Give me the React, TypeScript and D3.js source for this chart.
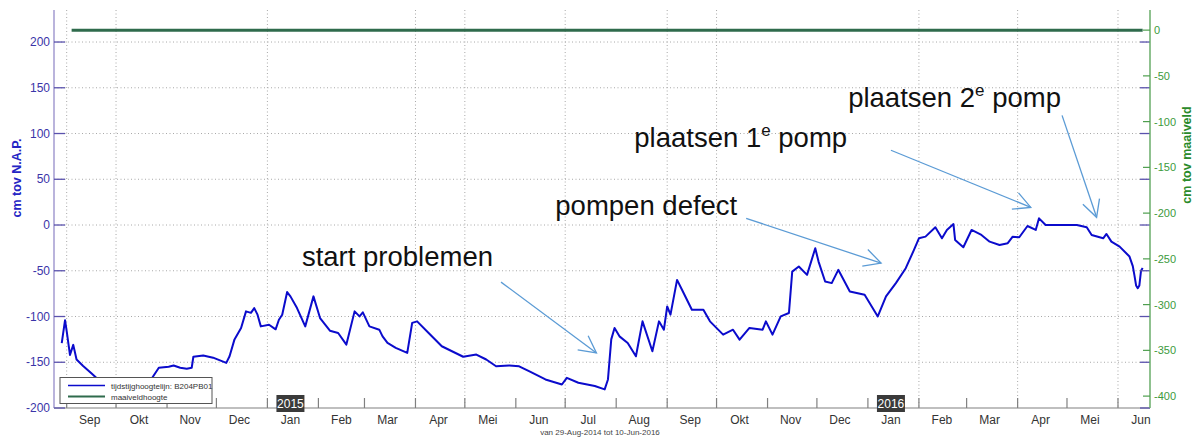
import { line, scaleLinear, scaleTime, timeMonth, timeParse } from "d3";

const parseDate = timeParse("%Y-%m-%d");

// gemeten stijghoogte (cm tov N.A.P.)
const obsDates = [
  "2014-08-29", "2014-08-31", "2014-09-01", "2014-09-03", "2014-09-05", "2014-09-07", "2014-09-11",
  "2014-09-16", "2014-09-19", "2014-09-24", "2014-09-30", "2014-10-06", "2014-10-12", "2014-10-18",
  "2014-10-21", "2014-10-23", "2014-10-27", "2014-11-02", "2014-11-05", "2014-11-09", "2014-11-13",
  "2014-11-16", "2014-11-17", "2014-11-23", "2014-11-29", "2014-12-07", "2014-12-09", "2014-12-12",
  "2014-12-16", "2014-12-19", "2014-12-22", "2014-12-24", "2014-12-26", "2014-12-28", "2015-01-02",
  "2015-01-06", "2015-01-08", "2015-01-10", "2015-01-13", "2015-01-15", "2015-01-19", "2015-01-24",
  "2015-01-29", "2015-02-02", "2015-02-08", "2015-02-13", "2015-02-18", "2015-02-23", "2015-02-26",
  "2015-02-28", "2015-03-04", "2015-03-10", "2015-03-12", "2015-03-15", "2015-03-20", "2015-03-27",
  "2015-03-30", "2015-04-02", "2015-04-09", "2015-04-17", "2015-04-30", "2015-05-08", "2015-05-14",
  "2015-05-20", "2015-05-28", "2015-06-03", "2015-06-09", "2015-06-19", "2015-06-29", "2015-07-02",
  "2015-07-09", "2015-07-19", "2015-07-25", "2015-07-27", "2015-07-29", "2015-07-31", "2015-08-03",
  "2015-08-08", "2015-08-13", "2015-08-17", "2015-08-23", "2015-08-27", "2015-08-30", "2015-09-01",
  "2015-09-03", "2015-09-07", "2015-09-10", "2015-09-16", "2015-09-23", "2015-09-27", "2015-10-05",
  "2015-10-11", "2015-10-15", "2015-10-21", "2015-10-29", "2015-10-31", "2015-11-04", "2015-11-09",
  "2015-11-14", "2015-11-16", "2015-11-20", "2015-11-25", "2015-11-30", "2015-12-02", "2015-12-06",
  "2015-12-10", "2015-12-14", "2015-12-21", "2015-12-30", "2016-01-07", "2016-01-12", "2016-01-18",
  "2016-01-24", "2016-01-29", "2016-02-01", "2016-02-05", "2016-02-11", "2016-02-15", "2016-02-18",
  "2016-02-22", "2016-02-23", "2016-02-28", "2016-03-04", "2016-03-10", "2016-03-15", "2016-03-21",
  "2016-03-26", "2016-03-29", "2016-04-02", "2016-04-07", "2016-04-12", "2016-04-14", "2016-04-18",
  "2016-04-26", "2016-05-07", "2016-05-13", "2016-05-16", "2016-05-23", "2016-05-25", "2016-05-28",
  "2016-06-02", "2016-06-08", "2016-06-10", "2016-06-11", "2016-06-12", "2016-06-13", "2016-06-14",
  "2016-06-15", "2016-06-16",
];
const obsValues = [
  -129, -104, -116, -142, -131, -147, -154,
  -162, -167, -172, -178, -182, -183, -178,
  -172, -167, -156, -155, -153.6, -156, -157,
  -156, -144, -142.7, -145, -150.7, -143.5, -125,
  -112.5, -94.4, -96, -90.8, -98, -110.8, -109,
  -114, -103.5, -98, -73.3, -78, -90.8, -110.8,
  -78, -101.7, -115.5, -118, -130.7, -94.4, -99.9,
  -95.5, -110.8, -114.4, -121.7, -128.9, -134.3, -139.8,
  -107, -105.3, -118, -132.5, -144, -141.6, -147,
  -154.4, -153.6, -154.4, -159.8, -168.8, -174.3, -167,
  -172.4, -176, -179.7, -168.8, -125, -112.5, -121.7,
  -129, -143.5, -105.3, -138, -105.3, -114.4, -89,
  -98, -60, -70.8, -92.6, -92.6, -105.3, -119.8,
  -114.4, -125.3, -112.5, -114.4, -105.3, -119.8, -99.9,
  -96.2, -50.9, -45.4, -54.5, -25.4, -40, -61.8,
  -63.5, -49, -72.6, -76.3, -99.9, -78, -63.5,
  -47.2, -27.2, -14.5, -12.7, -2.5, -14.5, -5.4,
  1, -16.3, -24.3, -5.4, -10.9, -18.2, -21.8,
  -19.9, -12.7, -13.4, -1.1, -5.4, 7.3, 0,
  0, 0, -2.5, -10.9, -14.5, -9.8, -18.2,
  -23.6, -34.5, -45, -55, -66, -69, -66,
  -50, -47,
];

// maaiveldhoogte (cm tov N.A.P.)
const groundLevel = 213;
const groundDates = ["2014-09-04", "2016-06-16"];

const leftTicks = [200, 150, 100, 50, 0, -50, -100, -150, -200];
const rightTicks = [0, -50, -100, -150, -200, -250, -300, -350, -400];
const gridDates = [
  "2014-09-01", "2014-10-01", "2015-01-01", "2015-04-01", "2015-05-01", "2015-07-01",
  "2015-09-01", "2015-10-01", "2016-02-01", "2016-04-01", "2016-06-01",
];
const monthNames = ["Jan", "Feb", "Mar", "Apr", "Mei", "Jun", "Jul", "Aug", "Sep", "Okt", "Nov", "Dec"];
const yearLabels = ["2015", "2016"];

const legendLabels = ["tijdstijghoogtelijn: B204PB01", "maaiveldhoogte"];
const caption = "van 29-Aug-2014 tot 10-Jun-2016";

// annotaties: tekst + pijl (staart -> punt), in datum/waarde
const notes = [
  { text: "start problemen", sup: "", rest: "", at: ["2015-01-22", -44.7], tail: ["2015-05-23", -62.4], tip: ["2015-07-20", -139.8] },
  { text: "pompen defect", sup: "", rest: "", at: ["2015-06-25", 10.9], tail: ["2015-10-19", 7.3], tip: ["2016-01-09", -41.7] },
  { text: "plaatsen 1", sup: "e", rest: " pomp", at: ["2015-08-12", 85], tail: ["2016-01-15", 81.7], tip: ["2016-04-09", 19.3] },
  { text: "plaatsen 2", sup: "e", rest: " pomp", at: ["2015-12-20", 128.5], tail: ["2016-04-28", 119.8], tip: ["2016-05-19", 8.4] },
];

const W = 1197;
const H = 440;
const left = 54;
const right = 1150;
const top = 10;
const bottom = 408;
const font = "Arial, 'Liberation Sans', sans-serif";

export default function App() {
  const x = scaleTime()
    .domain([new Date(2014, 7, 24, 7), new Date(2016, 5, 20, 11)])
    .range([left, right]);
  const y = scaleLinear().domain([-200, 235]).range([bottom, top]);
  const y2 = scaleLinear().domain([-200 - groundLevel, 235 - groundLevel]).range([bottom, top]);

  const points: [number, number][] = obsDates.map((d, i) => [x(parseDate(d)!), y(obsValues[i])]);
  const path = line()(points) || "";

  const monthStarts = timeMonth.range(new Date(2014, 8, 1), new Date(2016, 5, 2));
  const yearBoxes = monthStarts.filter((m) => m.getMonth() === 0);

  const arrowHead = (tx: number, ty: number, sx: number, sy: number) => {
    const a = Math.atan2(sy - ty, sx - tx);
    const len = 19;
    const sp = 0.48;
    return `M${tx + len * Math.cos(a + sp)},${ty + len * Math.sin(a + sp)}L${tx},${ty}L${tx + len * Math.cos(a - sp)},${ty + len * Math.sin(a - sp)}`;
  };

  return (
    <svg width={W} height={H} style={{ position: "absolute", left: 0, top: 0, background: "#fff" }} fontFamily={font}>
      {/* grid */}
      {leftTicks.slice(0, -1).map((t) => (
        <line key={"h" + t} x1={left} x2={right} y1={y(t)} y2={y(t)} stroke="#a8a8a8" strokeWidth={1} strokeDasharray="1 2.5" />
      ))}
      {gridDates.map((d) => (
        <line key={"v" + d} x1={x(parseDate(d)!)} x2={x(parseDate(d)!)} y1={top} y2={bottom} stroke="#a8a8a8" strokeWidth={1} strokeDasharray="1 2.5" />
      ))}

      {/* maaiveld */}
      <line
        x1={x(parseDate(groundDates[0])!)}
        x2={x(parseDate(groundDates[1])!)}
        y1={y(groundLevel)}
        y2={y(groundLevel)}
        stroke="#2f6b4c"
        strokeWidth={3}
      />

      {/* stijghoogte */}
      <path d={path} fill="none" stroke="#0b0bcc" strokeWidth={2} strokeLinejoin="round" />

      {/* x axis */}
      <line x1={left} x2={right} y1={bottom} y2={bottom} stroke="#808080" strokeWidth={1.2} />
      {monthStarts.map((m) => (
        <line key={"mt" + m.getTime()} x1={x(m)} x2={x(m)} y1={bottom} y2={bottom - 10} stroke="#808080" strokeWidth={1.2} />
      ))}
      {monthStarts.map((m) => {
        const mid = new Date(m.getFullYear(), m.getMonth(), 15);
        return (
          <text key={"ml" + m.getTime()} x={x(mid)} y={424} fontSize={12} fill="#333" textAnchor="middle">
            {monthNames[m.getMonth()]}
          </text>
        );
      })}
      {yearBoxes.map((m, i) => {
        const cx = x(new Date(m.getFullYear(), 0, 15));
        return (
          <g key={"yb" + i}>
            <rect x={cx - 14} y={395} width={28} height={17} fill="#3a3a3a" />
            <text x={cx} y={408} fontSize={12} fill="#fff" textAnchor="middle">
              {yearLabels[i]}
            </text>
          </g>
        );
      })}
      <text x={600} y={435} fontSize={8} fill="#444" textAnchor="middle">
        {caption}
      </text>

      {/* left axis */}
      <line x1={left} x2={left} y1={top} y2={bottom} stroke="#a39bd0" strokeWidth={1.5} />
      {leftTicks.map((t) => (
        <g key={"lt" + t}>
          <line x1={left} x2={left + 11} y1={y(t)} y2={y(t)} stroke="#5a52ad" strokeWidth={1.3} />
          <line x1={right - 10} x2={right} y1={y(t)} y2={y(t)} stroke="#5a52ad" strokeWidth={1.3} />
          <text x={50} y={y(t) + 4} fontSize={12} fill="#3a34a8" textAnchor="end">
            {t}
          </text>
        </g>
      ))}
      <text
        transform={`translate(21,${178}) rotate(-90)`}
        fontSize={12.5}
        fontWeight="bold"
        fill="#2424c4"
        textAnchor="middle"
      >
        cm tov N.A.P.
      </text>

      {/* right axis */}
      <line x1={right} x2={right} y1={top} y2={bottom} stroke="#6aac6a" strokeWidth={1.5} />
      {rightTicks.map((t) => (
        <g key={"rt" + t}>
          <line x1={right - 7} x2={right} y1={y2(t)} y2={y2(t)} stroke="#4e9e4e" strokeWidth={1.2} />
          <text x={1154} y={y2(t) + 4} fontSize={11} fill="#3c9a3c">
            {t}
          </text>
        </g>
      ))}
      <text
        transform={`translate(1191,${155}) rotate(-90)`}
        fontSize={12.5}
        fontWeight="bold"
        fill="#2a8a2a"
        textAnchor="middle"
      >
        cm tov maaiveld
      </text>

      {/* legend */}
      <rect x={60} y={377.5} width={152} height={26} fill="#fff" stroke="#555" strokeWidth={1} />
      <line x1={68} x2={105} y1={385.5} y2={385.5} stroke="#0b0bcc" strokeWidth={1.5} />
      <line x1={68} x2={105} y1={396.5} y2={396.5} stroke="#2f6b4c" strokeWidth={2} />
      <text x={111} y={388.5} fontSize={8} fill="#333">
        {legendLabels[0]}
      </text>
      <text x={111} y={399.5} fontSize={8} fill="#333">
        {legendLabels[1]}
      </text>

      {/* annotaties */}
      {notes.map((n, i) => {
        const tx = x(parseDate(n.at[0] as string)!);
        const ty = y(n.at[1] as number);
        const sx = x(parseDate(n.tail[0] as string)!);
        const sy = y(n.tail[1] as number);
        const px = x(parseDate(n.tip[0] as string)!);
        const py = y(n.tip[1] as number);
        return (
          <g key={"n" + i}>
            <text x={tx} y={ty} fontSize={27.5} fill="#111">
              {n.text}
              {n.sup && (
                <tspan fontSize={17} dy={-11}>
                  {n.sup}
                </tspan>
              )}
              {n.rest && <tspan dy={11}>{n.rest}</tspan>}
            </text>
            <line x1={sx} y1={sy} x2={px} y2={py} stroke="#5b9bd5" strokeWidth={1.3} />
            <path d={arrowHead(px, py, sx, sy)} fill="none" stroke="#5b9bd5" strokeWidth={1.3} />
          </g>
        );
      })}
    </svg>
  );
}
